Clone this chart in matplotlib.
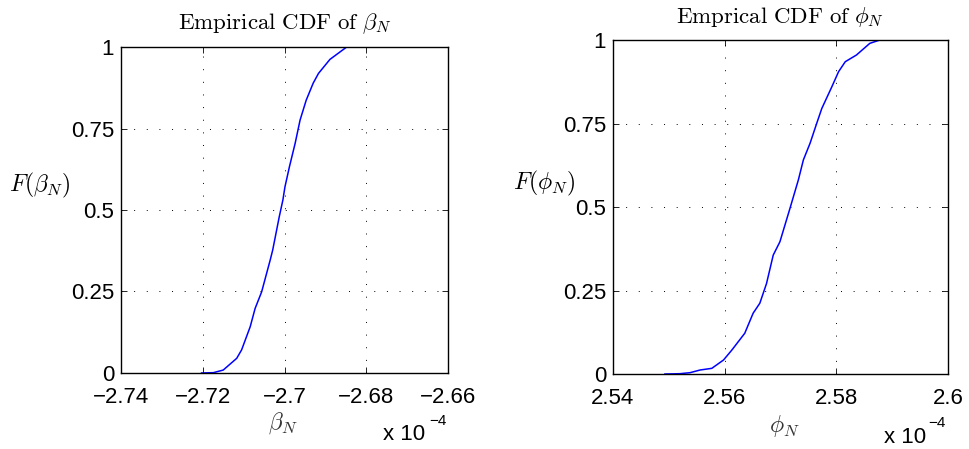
import matplotlib
matplotlib.use('agg')
import matplotlib.pyplot as plt
import numpy as np

# values (x in units of 1e-4)
beta_x = [-2.7203, -2.7174, -2.7150, -2.7117, -2.7105, -2.7084, -2.7072,
          -2.7056, -2.7035, -2.7029, -2.7013, -2.7004, -2.6999, -2.6988,
          -2.6974, -2.6962, -2.6947, -2.6930, -2.6917, -2.6889, -2.6848,
          -2.6766]
beta_F = [0.0, 0.001, 0.009, 0.045, 0.071, 0.142, 0.198,
          0.249, 0.347, 0.377, 0.479, 0.531, 0.571, 0.633,
          0.705, 0.776, 0.837, 0.889, 0.919, 0.962, 1.0,
          1.0]

phi_x = [2.5493, 2.5520, 2.5538, 2.5556, 2.5577, 2.5598, 2.5613, 2.5636,
         2.5651, 2.5663, 2.5675, 2.5687, 2.5699, 2.5717, 2.5732, 2.5741,
         2.5753, 2.5765, 2.5774, 2.5792, 2.5804, 2.5816, 2.5836, 2.5860,
         2.5878, 2.5920]
phi_F = [0.0, 0.001, 0.004, 0.012, 0.017, 0.042, 0.072, 0.122,
         0.182, 0.212, 0.271, 0.356, 0.396, 0.496, 0.581, 0.641,
         0.691, 0.751, 0.795, 0.860, 0.905, 0.935, 0.955, 0.990,
         1.0, 1.0]

beta_ticks = [-2.74, -2.72, -2.70, -2.68, -2.66]
beta_labels = ['\u22122.74', '\u22122.72', '\u22122.7', '\u22122.68', '\u22122.66']
phi_ticks = [2.54, 2.56, 2.58, 2.60]
phi_labels = ['2.54', '2.56', '2.58', '2.6']
y_ticks = [0, 0.25, 0.5, 0.75, 1]
y_labels = ['0', '0.25', '0.5', '0.75', '1']

plt.rcParams['font.family'] = ['Liberation Sans', 'DejaVu Sans']
plt.rcParams['mathtext.fontset'] = 'cm'

fig = plt.figure(figsize=(9.69, 4.49), dpi=100)
ax1 = fig.add_axes([0.1249, 0.1693, 0.3375, 0.726])
ax2 = fig.add_axes([0.6326, 0.1670, 0.3457, 0.7439])


def style_axes(ax, xticks, xlabels, xlim):
    ax.set_xlim(xlim)
    ax.set_ylim(0, 1)
    ax.set_xticks(xticks)
    ax.set_xticklabels(xlabels)
    ax.set_yticks(y_ticks)
    ax.set_yticklabels(y_labels)
    ax.tick_params(direction='in', top=True, right=True, length=4,
                   width=0.6, labelsize=16)
    ax.tick_params(axis='x', pad=10)
    ax.tick_params(axis='y', pad=5)
    ax.grid(True, color='black', linestyle=(0, (1, 12)), linewidth=0.7)
    for s in ax.spines.values():
        s.set_linewidth(1.0)


ax1.plot(beta_x, beta_F, color='#0000ff', linewidth=1.1)
style_axes(ax1, beta_ticks, beta_labels, (-2.74, -2.66))
ax1.set_title(r'$\mathrm{Empirical\ CDF\ of}\ \beta_N$', fontsize=16.5, pad=13)
ax1.text(-0.25, 0.575, r'$F(\beta_N)$', transform=ax1.transAxes,
         fontsize=17, ha='center', va='center')
ax1.text(0.495, -0.155, r'$\beta_N$', transform=ax1.transAxes,
         fontsize=17, ha='center', va='center', color='#333333')
ax1.text(0.80, -0.19, 'x 10', transform=ax1.transAxes,
         fontsize=16, ha='left', va='center')
ax1.text(0.942, -0.148, '\u22124', transform=ax1.transAxes,
         fontsize=11, ha='left', va='center')

ax2.plot(phi_x, phi_F, color='#0000ff', linewidth=1.1)
style_axes(ax2, phi_ticks, phi_labels, (2.54, 2.60))
ax2.set_title(r'$\mathrm{Emprical\ CDF\ of}\ \phi_N$', fontsize=16.5, pad=12)
ax2.text(-0.205, 0.572, r'$F(\phi_N)$', transform=ax2.transAxes,
         fontsize=17, ha='center', va='center')
ax2.text(0.51, -0.155, r'$\phi_N$', transform=ax2.transAxes,
         fontsize=17, ha='center', va='center', color='#333333')
ax2.text(0.81, -0.19, 'x 10', transform=ax2.transAxes,
         fontsize=16, ha='left', va='center')
ax2.text(0.940, -0.148, '\u22124', transform=ax2.transAxes,
         fontsize=11, ha='left', va='center')

fig.savefig('out.png', dpi=100)
